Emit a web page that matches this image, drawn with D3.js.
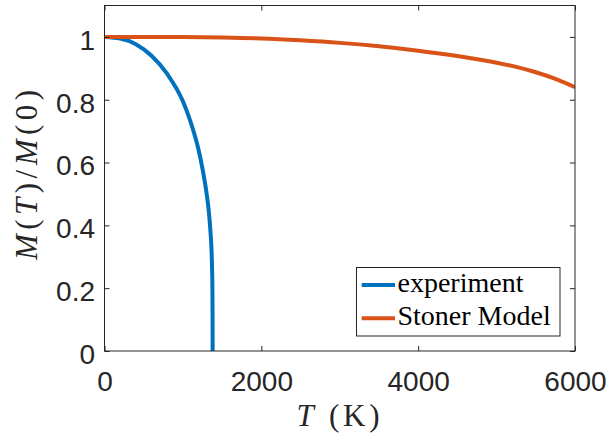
<!DOCTYPE html>
<html>
<head>
<meta charset="utf-8">
<script src="https://cdn.jsdelivr.net/npm/d3@7"></script>
<style>
  html, body { margin: 0; padding: 0; background: #ffffff; }
  svg { display: block; }
</style>
</head>
<body>
<svg id="chart" width="608" height="436"></svg>
<script>
// ---- data ----
const expT = [0, 200, 400, 600, 800, 1000, 1100, 1200, 1250, 1300, 1330, 1350, 1365, 1372, 1376, 1378, 1379];
const expM = [1, 0.995, 0.977, 0.94, 0.882, 0.795, 0.728, 0.640, 0.580, 0.505, 0.445, 0.385, 0.32, 0.26, 0.20, 0.12, 0];

const stonerT = [0, 500, 1000, 1500, 2000, 2500, 3000, 3500, 4000, 4500, 5000, 5250, 5500, 5750, 6000];
const stonerM = [1, 1, 0.9995, 0.998, 0.995, 0.989, 0.981, 0.970, 0.956, 0.939, 0.918, 0.9045, 0.8875, 0.8665, 0.840];

const xTicks = [0, 2000, 4000, 6000];
const xTickLabels = ["0", "2000", "4000", "6000"];
const yTicks = [0, 0.2, 0.4, 0.6, 0.8, 1];
const yTickLabels = ["0", "0.2", "0.4", "0.6", "0.8", "1"];

const seriesNames = ["experiment", "Stoner Model"];
const seriesColors = ["#0072BD", "#D95319"];

// ---- layout ----
const L = 104.5, R = 575, T = 5.5, B = 351;
const svg = d3.select("#chart");
svg.append("rect").attr("width", 608).attr("height", 436).attr("fill", "#fff");

const x = d3.scaleLinear().domain([0, 6000]).range([L, R]);
const y = d3.scaleLinear().domain([0, 1.1]).range([B, T]);

const tickFont = "'Liberation Sans', Arial, Helvetica, sans-serif";
const serif = "'Liberation Serif', 'Times New Roman', serif";
const axisColor = "#262626";

// clip
svg.append("defs").append("clipPath").attr("id", "clip")
  .append("rect").attr("x", L).attr("y", T).attr("width", R - L).attr("height", B - T);

// data lines
const line = d3.line().x(d => x(d[0])).y(d => y(d[1])).curve(d3.curveMonotoneX);
const series = [
  d3.zip(expT, expM),
  d3.zip(stonerT, stonerM)
];
const g = svg.append("g").attr("clip-path", "url(#clip)");
series.forEach((s, i) => {
  g.append("path").datum(s).attr("d", line)
    .attr("fill", "none").attr("stroke", seriesColors[i])
    .attr("stroke-width", 4).attr("stroke-linejoin", "round");
});

// axes
function styleAxis(sel) {
  sel.select(".domain").remove();
  sel.selectAll(".tick line").attr("stroke", axisColor).attr("stroke-width", 1);
  sel.selectAll(".tick text").attr("fill", axisColor)
    .style("font-family", tickFont).style("font-size", "28px");
}
const xAxis = svg.append("g").attr("transform", `translate(0,${B})`)
  .call(d3.axisBottom(x).tickValues(xTicks).tickSizeInner(-5).tickSizeOuter(0)
    .tickPadding(20).tickFormat((d, i) => xTickLabels[i]));
styleAxis(xAxis);

const yAxis = svg.append("g").attr("transform", `translate(${L},0)`)
  .call(d3.axisLeft(y).tickValues(yTicks).tickSizeInner(-5).tickSizeOuter(0)
    .tickPadding(9.5).tickFormat((d, i) => yTickLabels[i]));
styleAxis(yAxis);
yAxis.selectAll(".tick text").attr("dy", "0.44em");

const topAxis = svg.append("g").attr("transform", `translate(0,${T})`)
  .call(d3.axisTop(x).tickValues(xTicks).tickSizeInner(-5).tickSizeOuter(0).tickFormat(""));
styleAxis(topAxis);
const rightAxis = svg.append("g").attr("transform", `translate(${R},0)`)
  .call(d3.axisRight(y).tickValues(yTicks).tickSizeInner(-5).tickSizeOuter(0).tickFormat(""));
styleAxis(rightAxis);

// frame
svg.append("rect").attr("x", L).attr("y", T).attr("width", R - L).attr("height", B - T)
  .attr("fill", "none").attr("stroke", axisColor).attr("stroke-width", 1);

// axis labels
const xl = svg.append("text").attr("x", 338).attr("y", 426).attr("text-anchor", "middle")
  .attr("fill", axisColor).style("font-family", serif).style("font-size", "31px")
  .attr("textLength", 83).attr("lengthAdjust", "spacing");
xl.append("tspan").style("font-style", "italic").text("T");
xl.append("tspan").text("\u00a0(K)");

const yl = svg.append("text").attr("transform", "translate(37,175) rotate(-90)")
  .attr("text-anchor", "middle").attr("fill", axisColor)
  .style("font-family", serif).style("font-size", "31px")
  .attr("textLength", 170).attr("lengthAdjust", "spacing");
yl.append("tspan").style("font-style", "italic").text("M");
yl.append("tspan").text("(");
yl.append("tspan").style("font-style", "italic").text("T");
yl.append("tspan").text(")/");
yl.append("tspan").style("font-style", "italic").text("M");
yl.append("tspan").text("(0)");

// legend
const lg = svg.append("g");
lg.append("rect").attr("x", 356.5).attr("y", 267.5).attr("width", 203.5).attr("height", 68.5)
  .attr("fill", "#fff").attr("stroke", axisColor).attr("stroke-width", 1);
const legY = [285, 318.3];
seriesNames.forEach((name, i) => {
  lg.append("line").attr("x1", 361.7).attr("x2", 395).attr("y1", legY[i]).attr("y2", legY[i])
    .attr("stroke", seriesColors[i]).attr("stroke-width", 4);
  lg.append("text").attr("x", 397.5).attr("y", legY[i] + 6.5)
    .attr("fill", "#000").style("font-family", serif).style("font-size", "28px")
    .text(name);
});
</script>
</body>
</html>
